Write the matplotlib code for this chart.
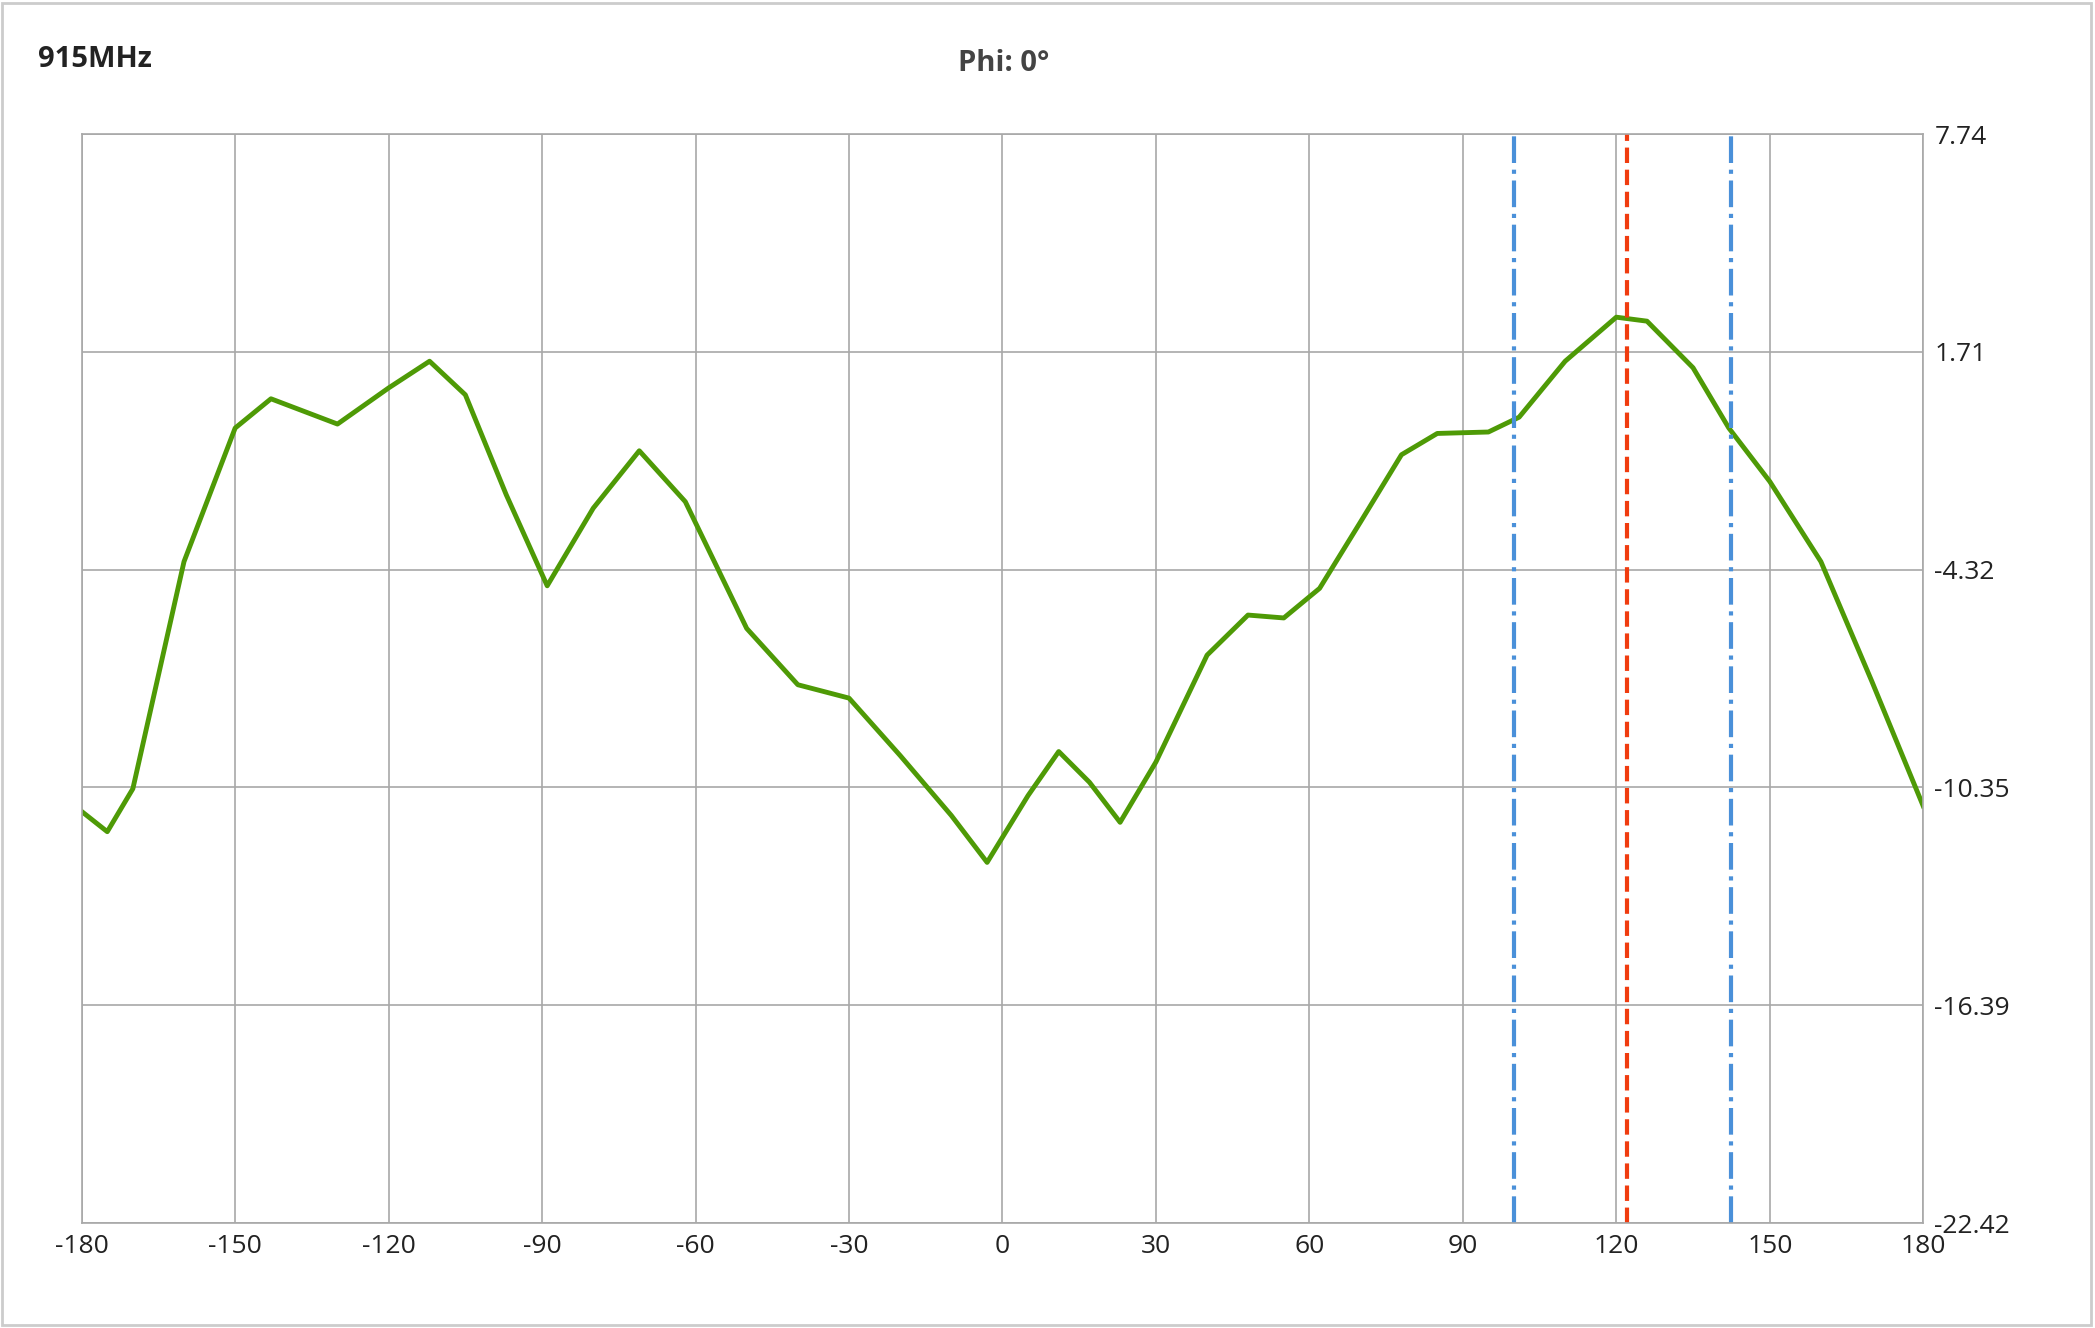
import numpy as np
import matplotlib.pyplot as plt

plt.rcParams['font.family'] = ['Open Sans', 'DejaVu Sans']
plt.rcParams['axes.unicode_minus'] = False

# --------------------------
# Data
# --------------------------
theta = [-180, -175, -170, -160, -150, -143, -130, -120, -112, -105, -97, -89,
         -80, -71, -62, -50, -40, -30, -20, -10, -3, 5, 11, 17, 23, 30, 40,
         48, 55, 62, 70, 78, 85, 95, 101, 110, 120, 126, 135, 142, 150, 160,
         170, 180]
gain = [-11.02, -11.58, -10.39, -4.1, -0.4, 0.41, -0.29, 0.71, 1.45, 0.52,
        -2.25, -4.77, -2.62, -1.03, -2.44, -5.95, -7.51, -7.88, -9.47, -11.13,
        -12.43, -10.58, -9.36, -10.21, -11.32, -9.65, -6.69, -5.58, -5.66,
        -4.84, -3.0, -1.14, -0.55, -0.51, -0.1, 1.45, 2.67, 2.56, 1.27, -0.4,
        -1.88, -4.1, -7.43, -10.87]
x_ticks = [-180, -150, -120, -90, -60, -30, 0, 30, 60, 90, 120, 150, 180]
y_ticks = [7.74, 1.71, -4.32, -10.35, -16.39, -22.42]
peak_angle = 122
beam_edges = [100, 142.5]

# --------------------------
# Figure
# --------------------------
fig = plt.figure(figsize=(20.95, 13.28), dpi=100)
ax = fig.add_axes([0.039, 0.079, 0.879, 0.820])

ax.plot(theta, gain, color='#4e9a06', linewidth=3.5, solid_joinstyle='round')
ax.axvline(peak_angle, color='#f03c0f', linestyle='--', linewidth=3)
for e in beam_edges:
    ax.axvline(e, color='#4a90d9', linestyle='-.', linewidth=3)

ax.set_xlim(-180, 180)
ax.set_ylim(-22.42, 7.74)
ax.set_xticks(x_ticks)
ax.set_yticks(y_ticks)
ax.set_yticklabels([f"{v:.2f}" for v in y_ticks])
ax.yaxis.tick_right()
ax.tick_params(axis='both', labelsize=19, length=0, pad=8, colors='#222222')
ax.grid(True, color='#a8a8a8', linewidth=1.2)
for s in ax.spines.values():
    s.set_color('#a8a8a8')
    s.set_linewidth(1.2)

fig.text(0.018, 0.955, "915MHz", fontsize=21, fontweight='bold', color='#222222', va='center')
fig.text(0.479, 0.952, "Phi: 0°", fontsize=21, fontweight='bold', color='#444444',
         ha='center', va='center')

# outer border
fig.add_artist(plt.Rectangle((0.001, 0.002), 0.997, 0.996, transform=fig.transFigure,
                             fill=False, edgecolor='#cccccc', linewidth=2))

fig.savefig("out.png", dpi=100)
